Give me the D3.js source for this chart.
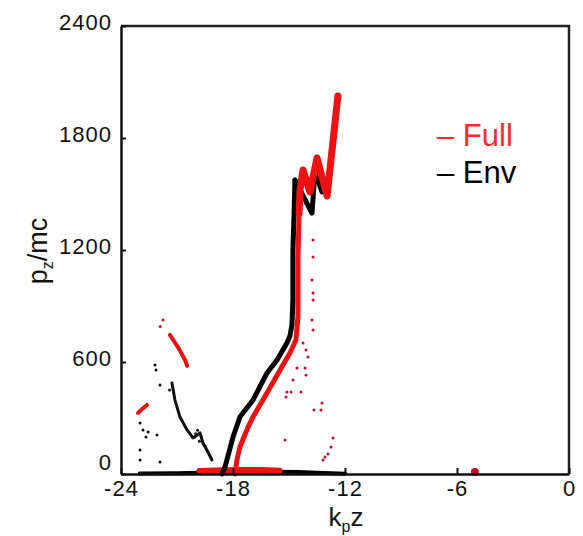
<!DOCTYPE html>
<html>
<head>
<meta charset="utf-8">
<script src="https://cdn.jsdelivr.net/npm/d3@7"></script>
<style>
  body { margin: 0; background: #fff; }
  text { font-family: "Liberation Sans", Arial, sans-serif; }
</style>
</head>
<body>
<div id="chart-area"></div>
<script>
// tick values
var xTicks = [-24, -18, -12, -6, 0];
var yTicks = [0, 600, 1200, 1800, 2400];

// "Full" (red) traces, [k_p z, p_z/mc]
var fullMain = [[-17.89, 0], [-17.79, 75], [-17.63, 145], [-17.2, 250], [-16.93, 305],
    [-16.18, 434], [-15.48, 557], [-14.95, 648], [-14.63, 718], [-14.52, 841],
    [-14.52, 1146], [-14.46, 1398]];
var fullSaw = [[-14.46, 1398], [-14.41, 1521], [-14.25, 1629], [-13.88, 1511],
    [-13.5, 1693], [-12.96, 1489], [-12.38, 2025]];
var fullLeft = [[-21.38, 745], [-20.95, 680], [-20.57, 611], [-20.46, 579]];
var fullClump = [[-23.09, 327], [-22.85, 350], [-22.61, 370]];
var fullBottom = [[-19.8, 16], [-18.5, 20], [-17.5, 22], [-16.5, 21], [-15.5, 18]];
var fullDots = [[-21.75, 825], [-21.9, 790], [-13.71, 1254], [-13.71, 1162], [-13.77, 1039],
    [-13.71, 970], [-13.71, 932], [-13.77, 825], [-13.71, 771], [-14.25, 702],
    [-14.09, 664], [-13.98, 627], [-14.57, 568], [-14.14, 568], [-14.09, 530],
    [-14.79, 504], [-15.11, 439], [-14.89, 439], [-14.36, 439], [-15.16, 412],
    [-13.23, 380], [-13.66, 343], [-13.29, 343], [-15.21, 182], [-12.64, 193],
    [-12.75, 145], [-12.91, 107], [-13.07, 91], [-13.18, 75], [-5.04, 11]];

// "Env" (black) traces
var envMain = [[-18.59, 0], [-18.43, 37], [-18.0, 198], [-17.63, 305], [-16.93, 396],
    [-16.18, 541], [-15.64, 611], [-15.11, 702], [-14.95, 740], [-14.84, 800],
    [-14.79, 932], [-14.79, 1200], [-14.73, 1387], [-14.68, 1575]];
var envSaw = [[-14.68, 1575], [-13.77, 1398], [-13.61, 1618], [-13.23, 1511]];
var envLeft = [[-21.27, 487], [-21.11, 396], [-20.84, 305], [-20.46, 236], [-20.14, 193],
    [-19.77, 220], [-19.61, 166], [-19.34, 118], [-19.13, 75]];
var envBottom = [[-23, 3], [-21, 4], [-19.8, 7], [-18, 9], [-16, 12], [-14.5, 11],
    [-13.5, 7], [-12, 2]];
var envDots = [[-22.98, 273], [-22.82, 236], [-22.66, 198], [-22.55, 225], [-22.07, 209],
    [-22.98, 129], [-22.98, 75], [-21.91, 64], [-22.18, 584], [-22.12, 557],
    [-21.91, 477], [-20.0, 215], [-19.9, 235], [-19.7, 200], [-19.8, 175],
    [-19.5, 150], [-21.4, 450]];

var svg = d3.select("#chart-area")
    .append("svg")
    .attr("width", 583)
    .attr("height", 536);

var x = d3.scaleLinear().domain([-24, 0]).range([121, 569]);
var y = d3.scaleLinear().domain([0, 2400]).range([474, 26]);

var line = d3.line()
    .x(d => x(d[0]))
    .y(d => y(d[1]));

// frame top + right
svg.append("path")
    .attr("d", "M" + x(-24) + "," + y(2400) + "H" + x(0) + "V" + y(0))
    .attr("fill", "none")
    .attr("stroke", "#222")
    .attr("stroke-width", 2.5);

function trace(data, color, width) {
    svg.append("path")
        .datum(data)
        .attr("d", line)
        .attr("fill", "none")
        .attr("stroke", color)
        .attr("stroke-width", width)
        .attr("stroke-linejoin", "round")
        .attr("stroke-linecap", "round");
}

trace(envBottom, "#000", 4);
trace(fullBottom, "#e8140f", 6);
trace(envLeft, "#111", 3);
trace(fullLeft, "#e8140f", 4);
trace(fullClump, "#e8140f", 4);
trace(envMain, "#000", 5);
trace(fullMain, "#ee1111", 5);
trace(envSaw, "#000", 5);
trace(fullSaw, "#ee1111", 7);

svg.selectAll("circle.env")
    .data(envDots)
    .enter()
    .append("circle")
    .attr("class", "env")
    .attr("cx", d => x(d[0]))
    .attr("cy", d => y(d[1]))
    .attr("r", 1.5)
    .attr("fill", "#111");

svg.selectAll("circle.full")
    .data(fullDots)
    .enter()
    .append("circle")
    .attr("class", "full")
    .attr("cx", d => x(d[0]))
    .attr("cy", d => y(d[1]))
    .attr("r", (d, i) => i == fullDots.length - 1 ? 4 : 1.5)
    .attr("fill", "#c0102a");

// axes
var xAxis = svg.append("g")
    .attr("transform", "translate(0," + y(0) + ")")
    .call(d3.axisBottom(x).tickValues(xTicks).tickFormat(d => String(d))
        .tickSize(-6).tickSizeOuter(0).tickPadding(6));

var yAxis = svg.append("g")
    .attr("transform", "translate(" + x(-24) + ",0)")
    .call(d3.axisLeft(y).tickValues(yTicks).tickFormat(d => String(d))
        .tickSize(-5).tickSizeOuter(0).tickPadding(9));

[xAxis, yAxis].forEach(function(g) {
    g.select(".domain").attr("stroke", "#111").attr("stroke-width", 2.5);
    g.selectAll(".tick line").attr("stroke", "#111").attr("stroke-width", 2);
    g.selectAll(".tick text")
        .attr("fill", "#111")
        .style("font-size", "22px")
        .style("letter-spacing", "1px")
        .style("font-family", "'Liberation Sans', Arial, sans-serif");
});
yAxis.selectAll(".tick text").attr("dy", d => d == 0 ? "-0.2em" : "0.14em");

// axis titles
var xt = svg.append("text")
    .attr("x", 346)
    .attr("y", 526)
    .attr("text-anchor", "middle")
    .style("font-size", "26px")
    .attr("fill", "#111");
xt.append("tspan").text("k");
xt.append("tspan").attr("dy", 6).style("font-size", "16px").text("p");
xt.append("tspan").attr("dy", -6).text("z");

var yt = svg.append("text")
    .attr("transform", "translate(47,251) rotate(-90)")
    .attr("text-anchor", "middle")
    .style("font-size", "27px")
    .attr("fill", "#111");
yt.append("tspan").text("p");
yt.append("tspan").attr("dy", 6).style("font-size", "16px").text("z");
yt.append("tspan").attr("dy", -6).text("/mc");

// legend
svg.append("text")
    .attr("x", 437)
    .attr("y", 146)
    .style("font-size", "31px")
    .attr("fill", "#ff2a2a")
    .text("– Full");
svg.append("text")
    .attr("x", 437)
    .attr("y", 183)
    .style("font-size", "31px")
    .attr("fill", "#000")
    .text("– Env");
</script>
</body>
</html>
